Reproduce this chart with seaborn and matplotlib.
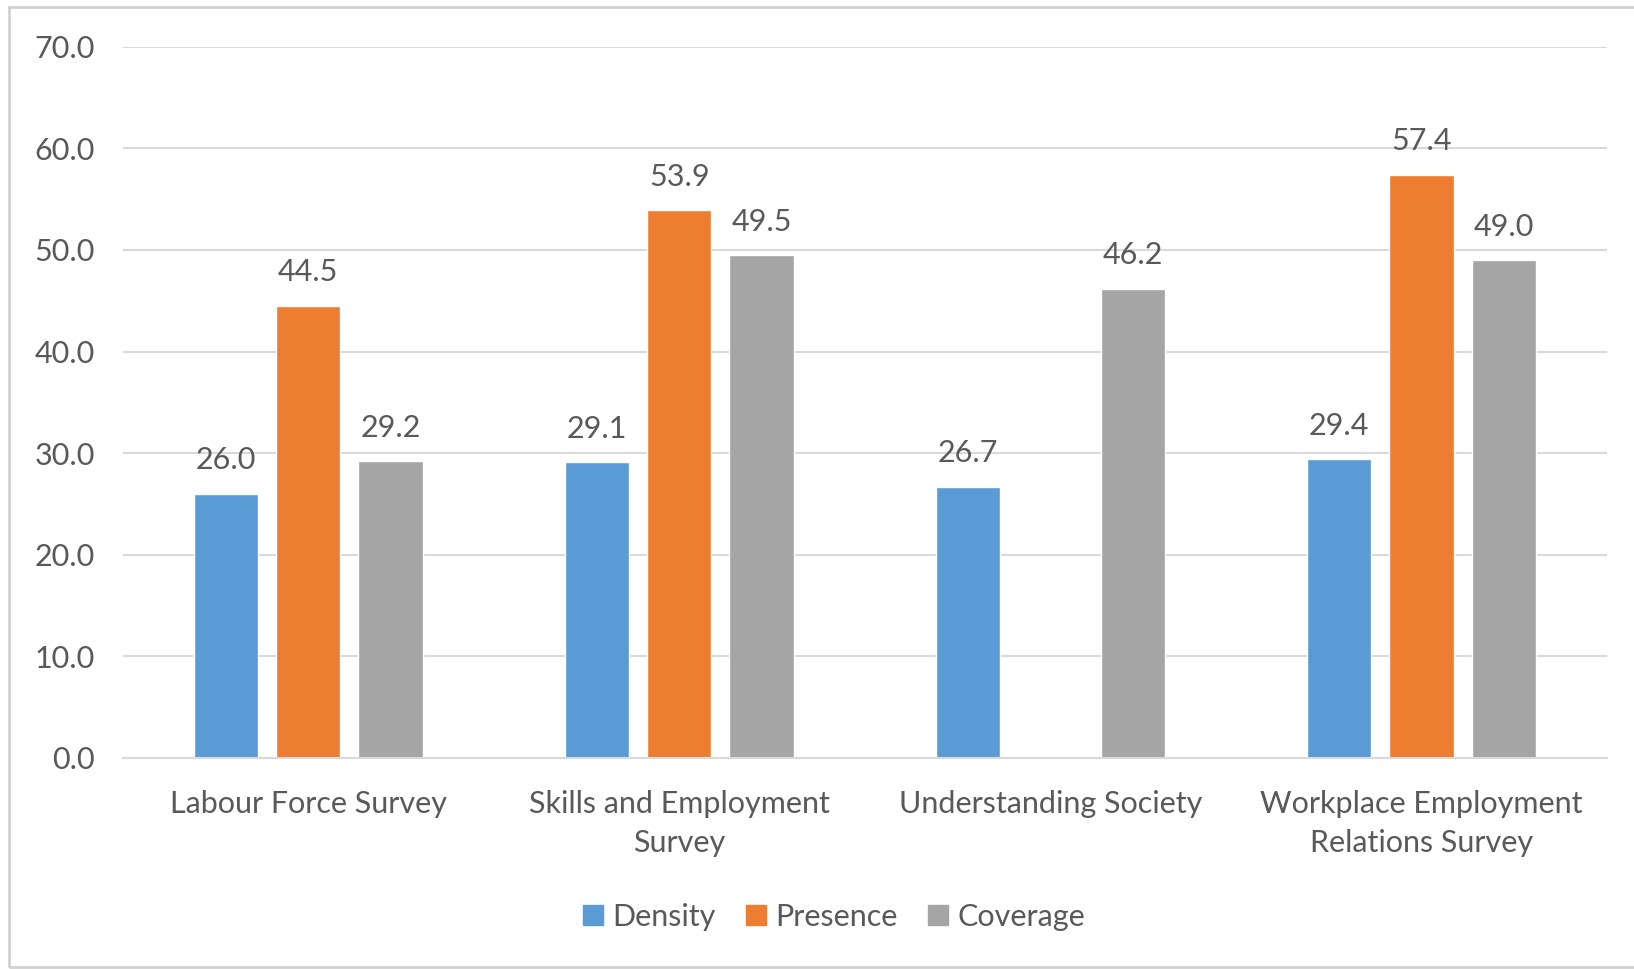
import numpy as np
import pandas as pd
import matplotlib
matplotlib.use("Agg")
import matplotlib.pyplot as plt
from matplotlib.patches import Rectangle
import seaborn as sns

categories = ["Labour Force Survey", "Skills and Employment\nSurvey",
              "Understanding Society", "Workplace Employment\nRelations Survey"]
series = ["Density", "Presence", "Coverage"]
density = [26.0, 29.1, 26.7, 29.4]
presence = [44.5, 53.9, np.nan, 57.4]
coverage = [29.2, 49.5, 46.2, 49.0]
yticks = [0, 10, 20, 30, 40, 50, 60, 70]
colors = ["#5B9BD5", "#ED7D31", "#A5A5A5"]

rows = []
for name, vals in zip(series, [density, presence, coverage]):
    for c, v in zip(categories, vals):
        rows.append({"Survey": c, "Measure": name, "Value": v})
df = pd.DataFrame(rows)

sns.set_theme(style="white")
plt.rcParams['font.family'] = ['Lato', 'DejaVu Sans']
text_color = "#595959"
fs = 22

fig = plt.figure(figsize=(16.34, 9.69), dpi=100)
ax = fig.add_axes([0.075, 0.2178, 0.9085, 0.734])

sns.barplot(data=df, x="Survey", y="Value", hue="Measure", order=categories,
            hue_order=series, palette=colors, width=0.666, gap=0.22,
            saturation=1, ax=ax, legend=False, errorbar=None)

ax.set_xlim(-0.5, 3.5)
ax.set_ylim(0, 70)
ax.set_yticks(yticks)
ax.set_yticklabels([f"{t:.1f}" for t in yticks])
ax.yaxis.grid(True, color="#D9D9D9", linewidth=1.5)
ax.set_axisbelow(True)
for s in ["top", "right", "left"]:
    ax.spines[s].set_visible(False)
ax.spines["bottom"].set_color("#D9D9D9")
ax.spines["bottom"].set_linewidth(1.5)
ax.tick_params(axis="y", length=0, pad=20, labelsize=fs, labelcolor=text_color)
ax.tick_params(axis="x", length=0, pad=23, labelsize=fs, labelcolor=text_color)
for lbl in ax.get_xticklabels():
    lbl.set_linespacing(1.5)
ax.set_xlabel("")
ax.set_ylabel("")

for cont in ax.containers:
    for bar in cont:
        h = bar.get_height()
        if np.isnan(h):
            continue
        ax.annotate(f"{h:.1f}", (bar.get_x() + bar.get_width() / 2, h),
                    xytext=(0, 24), textcoords="offset points",
                    ha="center", va="center", fontsize=fs, color=text_color)

handles = [Rectangle((0, 0), 1, 1, color=c) for c in colors]
fig.legend(handles, series, loc="center", bbox_to_anchor=(834 / 1634, 1 - 917 / 969),
           ncol=3, frameon=False, fontsize=fs, labelcolor=text_color,
           handlelength=0.65, handleheight=0.65, handletextpad=0.3, columnspacing=1.0)

fig.patches.append(Rectangle((9 / 1634, 2 / 969), 1.2, 1 - 9 / 969,
                             transform=fig.transFigure, fill=False,
                             edgecolor="#D0D0D0", linewidth=2, zorder=0))

fig.savefig("out.png", dpi=100)
